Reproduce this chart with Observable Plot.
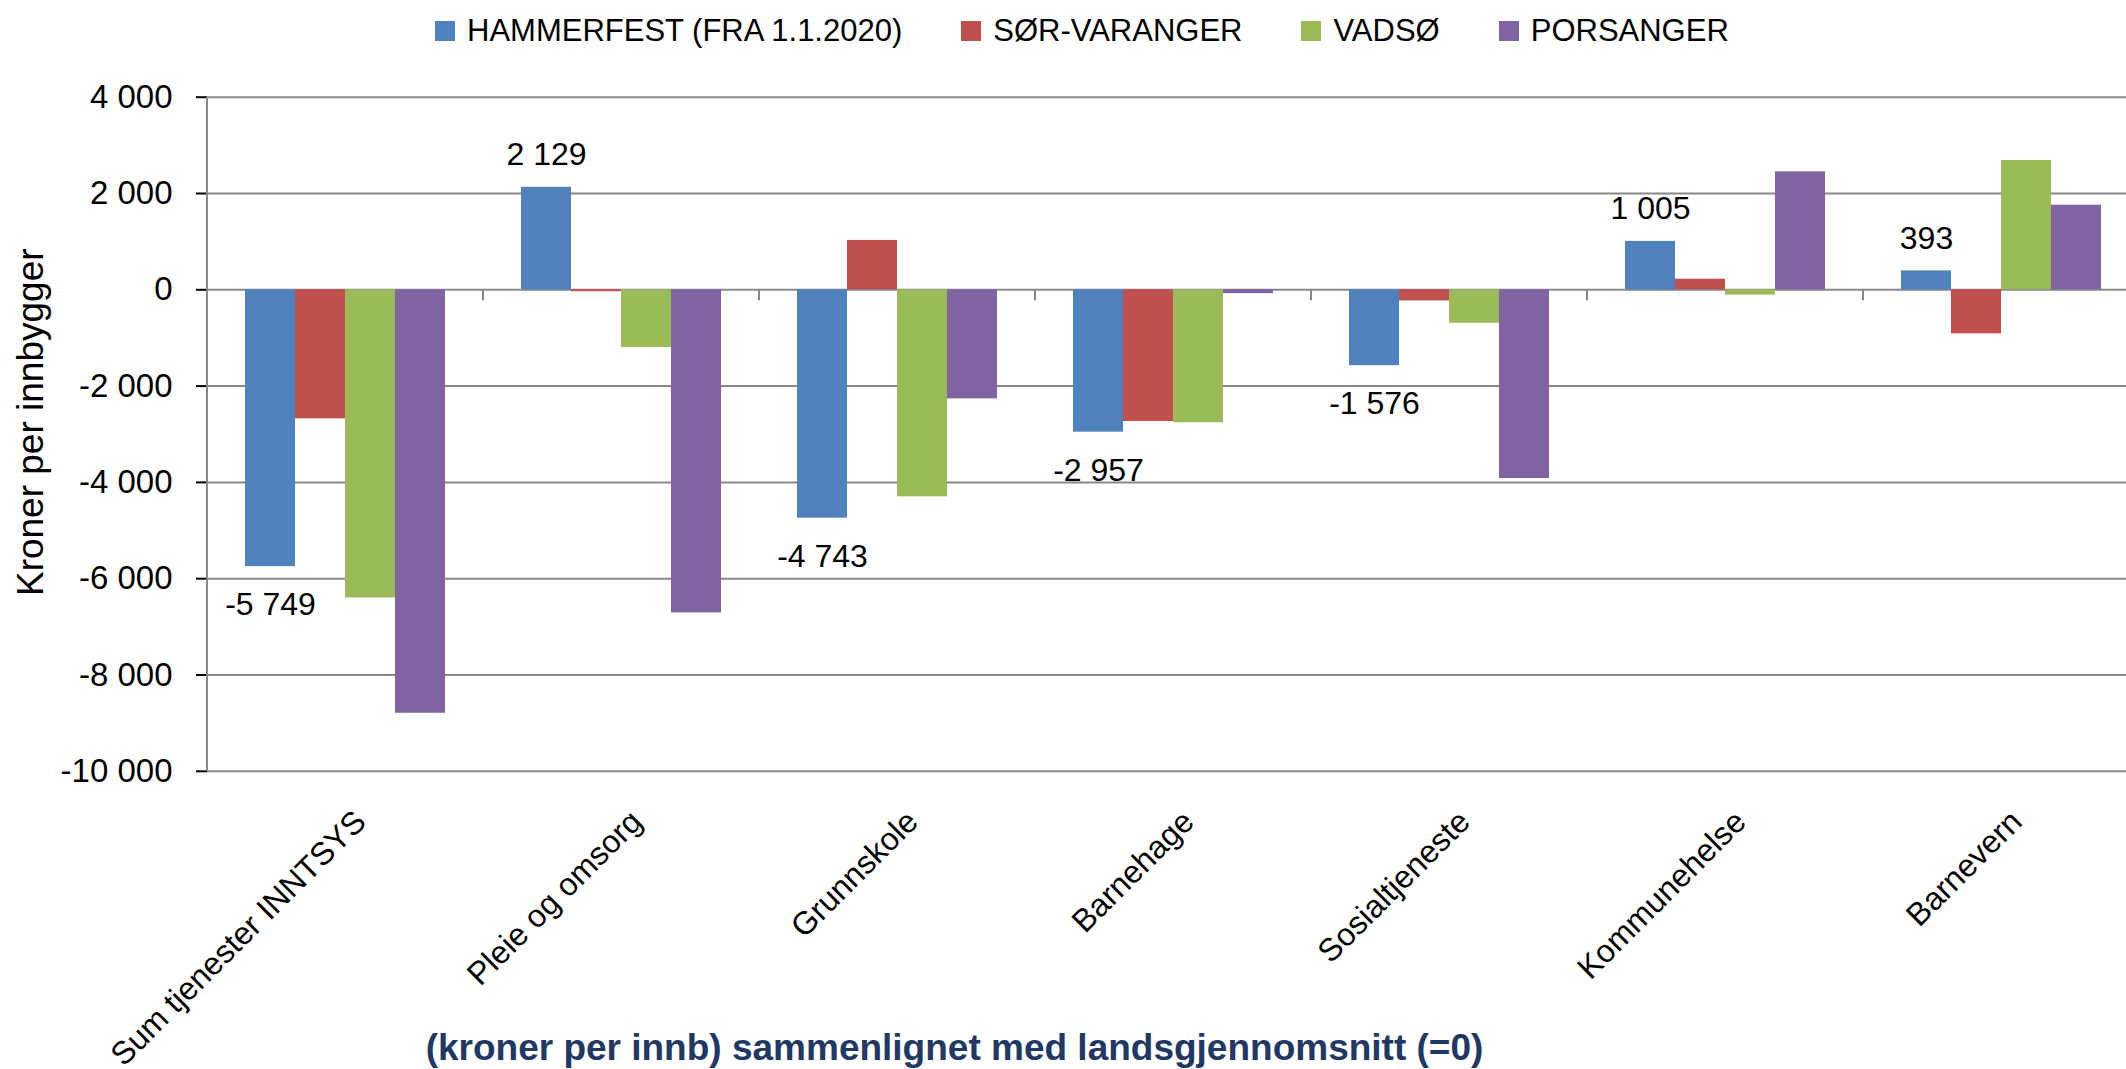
<!DOCTYPE html>
<html>
<head>
<meta charset="utf-8">
<script src="https://cdn.jsdelivr.net/npm/d3@7"></script>
<script src="https://cdn.jsdelivr.net/npm/@observablehq/plot@0.6"></script>
<style>
  html, body { margin: 0; padding: 0; background: #fff; }
  body { position: relative; width: 2126px; height: 1069px; overflow: hidden; font-family: "Liberation Sans", Arial, sans-serif; }
  #chart { position: absolute; left: 0; top: 0; }
  #legend { position: absolute; top: 15px; left: 435px; display: flex; align-items: center; font-size: 31px; line-height: 1; color: #000; white-space: nowrap; }
  #legend .item { display: flex; align-items: center; margin-right: 59px; }
  #legend .sw { width: 20px; height: 20px; margin-right: 12px; }
  #subtitle { position: absolute; left: 0; width: 1909px; top: 1029px; text-align: center; font-size: 37px; line-height: 1; font-weight: bold; color: #1F3864; white-space: nowrap; }
  g[aria-label="y-axis tick"] { stroke: #888888; stroke-width: 2; }
</style>
</head>
<body>
<div id="legend"></div>
<div id="chart"></div>
<div id="subtitle"></div>
<script>
const categories = ["Sum tjenester INNTSYS", "Pleie og omsorg", "Grunnskole", "Barnehage", "Sosialtjeneste", "Kommunehelse", "Barnevern"];
const series = ["HAMMERFEST (FRA 1.1.2020)", "SØR-VARANGER", "VADSØ", "PORSANGER"];
const hammerfest  = [-5749, 2129, -4743, -2957, -1576, 1005, 393];
const sorVaranger = [-2680, -40, 1025, -2735, -230, 220, -915];
const vadso       = [-6400, -1200, -4300, -2760, -695, -110, 2686];
const porsanger   = [-8795, -6710, -2265, -80, -3920, 2450, 1757];
const colors = ["#4F81BD", "#C0504D", "#9BBB59", "#8064A2"];
const yTicks = [-10000, -8000, -6000, -4000, -2000, 0, 2000, 4000];
const yLabel = "Kroner per innbygger";
const subtitle = "(kroner per innb) sammenlignet med landsgjennomsnitt (=0)";

const seriesValues = [hammerfest, sorVaranger, vadso, porsanger];
const data = [];
categories.forEach((c, i) => series.forEach((s, j) => data.push({cat: c, series: s, value: seriesValues[j][i]})));
const labelled = data.filter(d => d.series === series[0]);

const fmt = v => (v < 0 ? "-" : "") + d3.format(",")(Math.abs(v)).replace(/,/g, " ");

const chart = Plot.plot({
  width: 2126,
  height: 1069,
  marginLeft: 207,
  marginRight: -13,
  marginTop: 96.7,
  marginBottom: 298.2,
  style: {fontFamily: "'Liberation Sans', Arial, sans-serif", fontSize: "32px", color: "#000", background: "transparent", overflow: "visible"},
  fx: {domain: categories, padding: 0, axis: null, label: null},
  x: {domain: series, paddingInner: 0, paddingOuter: 0.76, axis: null, label: null},
  y: {domain: [-10000, 4000], label: null},
  color: {domain: series, range: colors},
  marks: [
    Plot.ruleY(yTicks, {stroke: "#888888", strokeWidth: 2}),
    Plot.barY(data, {fx: "cat", x: "series", y: "value", fill: "series"}),
    Plot.axisY({ticks: yTicks, tickSize: 11, tickPadding: 24, tickFormat: fmt, fontSize: 33, label: null}),
    Plot.text(labelled.filter(d => d.value >= 0), {fx: "cat", x: "series", y: "value", text: d => fmt(d.value), lineAnchor: "bottom", dy: -22, fontSize: 32, fill: "#000"}),
    Plot.text(labelled.filter(d => d.value < 0), {fx: "cat", x: "series", y: "value", text: d => fmt(d.value), lineAnchor: "top", dy: 26, fontSize: 32, fill: "#000"}),
    Plot.text(categories, {fx: d => d, text: d => d, frameAnchor: "bottom", rotate: -45, textAnchor: "end", lineAnchor: "middle", dx: 15, dy: 45, fontSize: 32, fill: "#000"}),
    Plot.text([yLabel], {fx: () => categories[0], text: d => d, frameAnchor: "left", rotate: -90, textAnchor: "middle", lineAnchor: "middle", dx: -176, dy: -12, fontSize: 37, fill: "#000"})
  ]
});
document.getElementById("chart").appendChild(chart);

// axis line and category boundary ticks, positioned through Plot's scales
const fxS = chart.scale("fx");
const yS = chart.scale("y");
const svg = d3.select(chart);
const g = svg.append("g").attr("stroke", "#888888").attr("stroke-width", 2);
const x0 = fxS.apply(categories[0]);
g.append("line").attr("x1", x0).attr("x2", x0).attr("y1", yS.apply(yS.domain[1])).attr("y2", yS.apply(yS.domain[0]));
const bounds = categories.slice(1).map(c => fxS.apply(c));
bounds.push(fxS.apply(categories[categories.length - 1]) + fxS.bandwidth);
bounds.forEach(x => g.append("line").attr("x1", x).attr("x2", x).attr("y1", yS.apply(0)).attr("y2", yS.apply(0) + 11));

// legend
const legend = d3.select("#legend");
series.forEach((s, i) => {
  const it = legend.append("div").attr("class", "item");
  it.append("div").attr("class", "sw").style("background", colors[i]);
  it.append("span").text(s);
});
document.getElementById("subtitle").textContent = subtitle;
</script>
</body>
</html>
